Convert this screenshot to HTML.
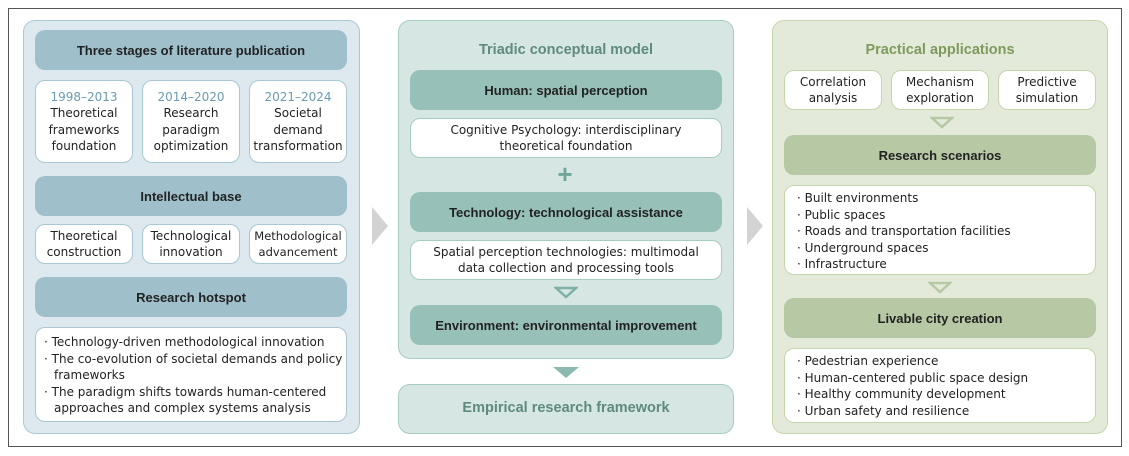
<!DOCTYPE html>
<html><head><meta charset="utf-8"><style>
*{margin:0;padding:0;box-sizing:border-box}
body{width:1129px;height:456px;background:#fff;font-family:"DejaVu Sans","Liberation Sans",sans-serif;color:#222;position:relative;overflow:hidden}
.a{position:absolute}
.frame{left:8px;top:8px;width:1114px;height:439px;border:1px solid #555}
.panel{border:1.5px solid;border-radius:12px}
.hdr{border-radius:10px;display:flex;align-items:center;justify-content:center;font-weight:bold;font-size:13px;color:#222;font-family:"Liberation Sans",sans-serif}
.wb{background:#fff;border:1.5px solid;border-radius:10px;display:flex;flex-direction:column;align-items:center;justify-content:center;text-align:center;font-size:12px;line-height:16.5px;color:#222}
.list{background:#fff;border:1.5px solid;border-radius:10px;font-size:12px;line-height:16.5px;color:#222;padding:4px 10px 0 12px}
.list div{padding-left:10px;text-indent:-10px}
.title{font-weight:bold;font-size:14.5px;text-align:center;font-family:"Liberation Sans",sans-serif}
</style></head><body>
<div class="a frame"></div>

<div class="a panel" style="left:23px;top:20px;width:337px;height:414px;background:#dde9ee;border-color:#a9c8d3"></div>
<div class="a hdr" style="left:35px;top:30px;width:312px;height:40px;background:#9fc0cb">Three stages of literature publication</div>
<div class="a wb" style="left:35px;top:80px;width:98px;height:83px;border-color:#a9c8d3"><span style="color:#6b9bb0">1998–2013</span>Theoretical<br>frameworks<br>foundation</div>
<div class="a wb" style="left:142px;top:80px;width:98px;height:83px;border-color:#a9c8d3"><span style="color:#6b9bb0">2014–2020</span>Research<br>paradigm<br>optimization</div>
<div class="a wb" style="left:249px;top:80px;width:98px;height:83px;border-color:#a9c8d3"><span style="color:#6b9bb0">2021–2024</span>Societal<br>demand<br>transformation</div>
<div class="a hdr" style="left:35px;top:176px;width:312px;height:40px;background:#9fc0cb">Intellectual base</div>
<div class="a wb" style="left:35px;top:224px;width:98px;height:40px;border-color:#a9c8d3">Theoretical<br>construction</div>
<div class="a wb" style="left:142px;top:224px;width:98px;height:40px;border-color:#a9c8d3">Technological<br>innovation</div>
<div class="a wb" style="left:249px;top:224px;width:98px;height:40px;border-color:#a9c8d3;font-size:11.5px">Methodological<br>advancement</div>
<div class="a hdr" style="left:35px;top:277px;width:312px;height:40px;background:#9fc0cb">Research hotspot</div>
<div class="a list" style="left:35px;top:327px;width:312px;height:95px;border-color:#a9c8d3;padding:6px 2px 0 8px"><div>· Technology-driven methodological innovation</div><div>· The co-evolution of societal demands and policy frameworks</div><div>· The paradigm shifts towards human-centered approaches and complex systems analysis</div></div>

<svg class="a" style="left:370px;top:205px" width="20" height="42"><polygon points="2,2 18,21 2,40" fill="#d3d3d3"/></svg>
<svg class="a" style="left:745px;top:205px" width="20" height="42"><polygon points="2,2 18,21 2,40" fill="#d3d3d3"/></svg>

<div class="a panel" style="left:398px;top:20px;width:336px;height:339px;background:#d6e6e3;border-color:#a6cdc3"></div>
<div class="a title" style="left:398px;top:42px;width:336px;color:#5e8a80">Triadic conceptual model</div>
<div class="a hdr" style="left:410px;top:70px;width:312px;height:40px;background:#97c0b8">Human: spatial perception</div>
<div class="a wb" style="left:410px;top:118px;width:312px;height:40px;border-color:#a6cdc3">Cognitive Psychology: interdisciplinary<br>theoretical foundation</div>
<div class="a" style="left:556px;top:163px;width:18px;height:22px;color:#6fa699;font-size:26px;font-weight:bold;line-height:22px;text-align:center;font-family:'Liberation Sans',sans-serif">+</div>
<div class="a hdr" style="left:410px;top:192px;width:312px;height:40px;background:#97c0b8">Technology: technological assistance</div>
<div class="a wb" style="left:410px;top:240px;width:312px;height:40px;border-color:#a6cdc3">Spatial perception technologies: multimodal<br>data collection and processing tools</div>
<svg class="a" style="left:554px;top:286px" width="24" height="14"><polygon points="2,2 22,2 12,11" fill="none" stroke="#7fb0a5" stroke-width="2.5"/></svg>
<div class="a hdr" style="left:410px;top:305px;width:312px;height:40px;background:#97c0b8">Environment: environmental improvement</div>
<svg class="a" style="left:553px;top:366px" width="26" height="13"><polygon points="0,1 26,1 13,12" fill="#8dbab0"/></svg>
<div class="a panel" style="left:398px;top:384px;width:336px;height:50px;background:#d6e6e3;border-color:#a6cdc3"></div>
<div class="a title" style="left:398px;top:400px;width:336px;color:#5e8a80">Empirical research framework</div>

<div class="a panel" style="left:772px;top:20px;width:336px;height:414px;background:#e4ead9;border-color:#c4d5ad"></div>
<div class="a title" style="left:772px;top:42px;width:336px;color:#7e9a5c">Practical applications</div>
<div class="a wb" style="left:784px;top:70px;width:98px;height:40px;border-color:#c4d5ad">Correlation<br>analysis</div>
<div class="a wb" style="left:891px;top:70px;width:98px;height:40px;border-color:#c4d5ad">Mechanism<br>exploration</div>
<div class="a wb" style="left:998px;top:70px;width:98px;height:40px;border-color:#c4d5ad">Predictive<br>simulation</div>
<svg class="a" style="left:930px;top:116px" width="24" height="14"><polygon points="2,2 22,2 12,11" fill="none" stroke="#b6c8a4" stroke-width="2.5"/></svg>
<div class="a hdr" style="left:784px;top:135px;width:312px;height:40px;background:#b6c8a4">Research scenarios</div>
<div class="a list" style="left:784px;top:185px;width:312px;height:90px;border-color:#c4d5ad"><div>· Built environments</div><div>· Public spaces</div><div>· Roads and transportation facilities</div><div>· Underground spaces</div><div>· Infrastructure</div></div>
<svg class="a" style="left:928px;top:281px" width="24" height="14"><polygon points="2,2 22,2 12,11" fill="none" stroke="#b6c8a4" stroke-width="2.5"/></svg>
<div class="a hdr" style="left:784px;top:298px;width:312px;height:40px;background:#b6c8a4">Livable city creation</div>
<div class="a list" style="left:784px;top:348px;width:312px;height:75px;border-color:#c4d5ad"><div>· Pedestrian experience</div><div>· Human-centered public space design</div><div>· Healthy community development</div><div>· Urban safety and resilience</div></div>
</body></html>
